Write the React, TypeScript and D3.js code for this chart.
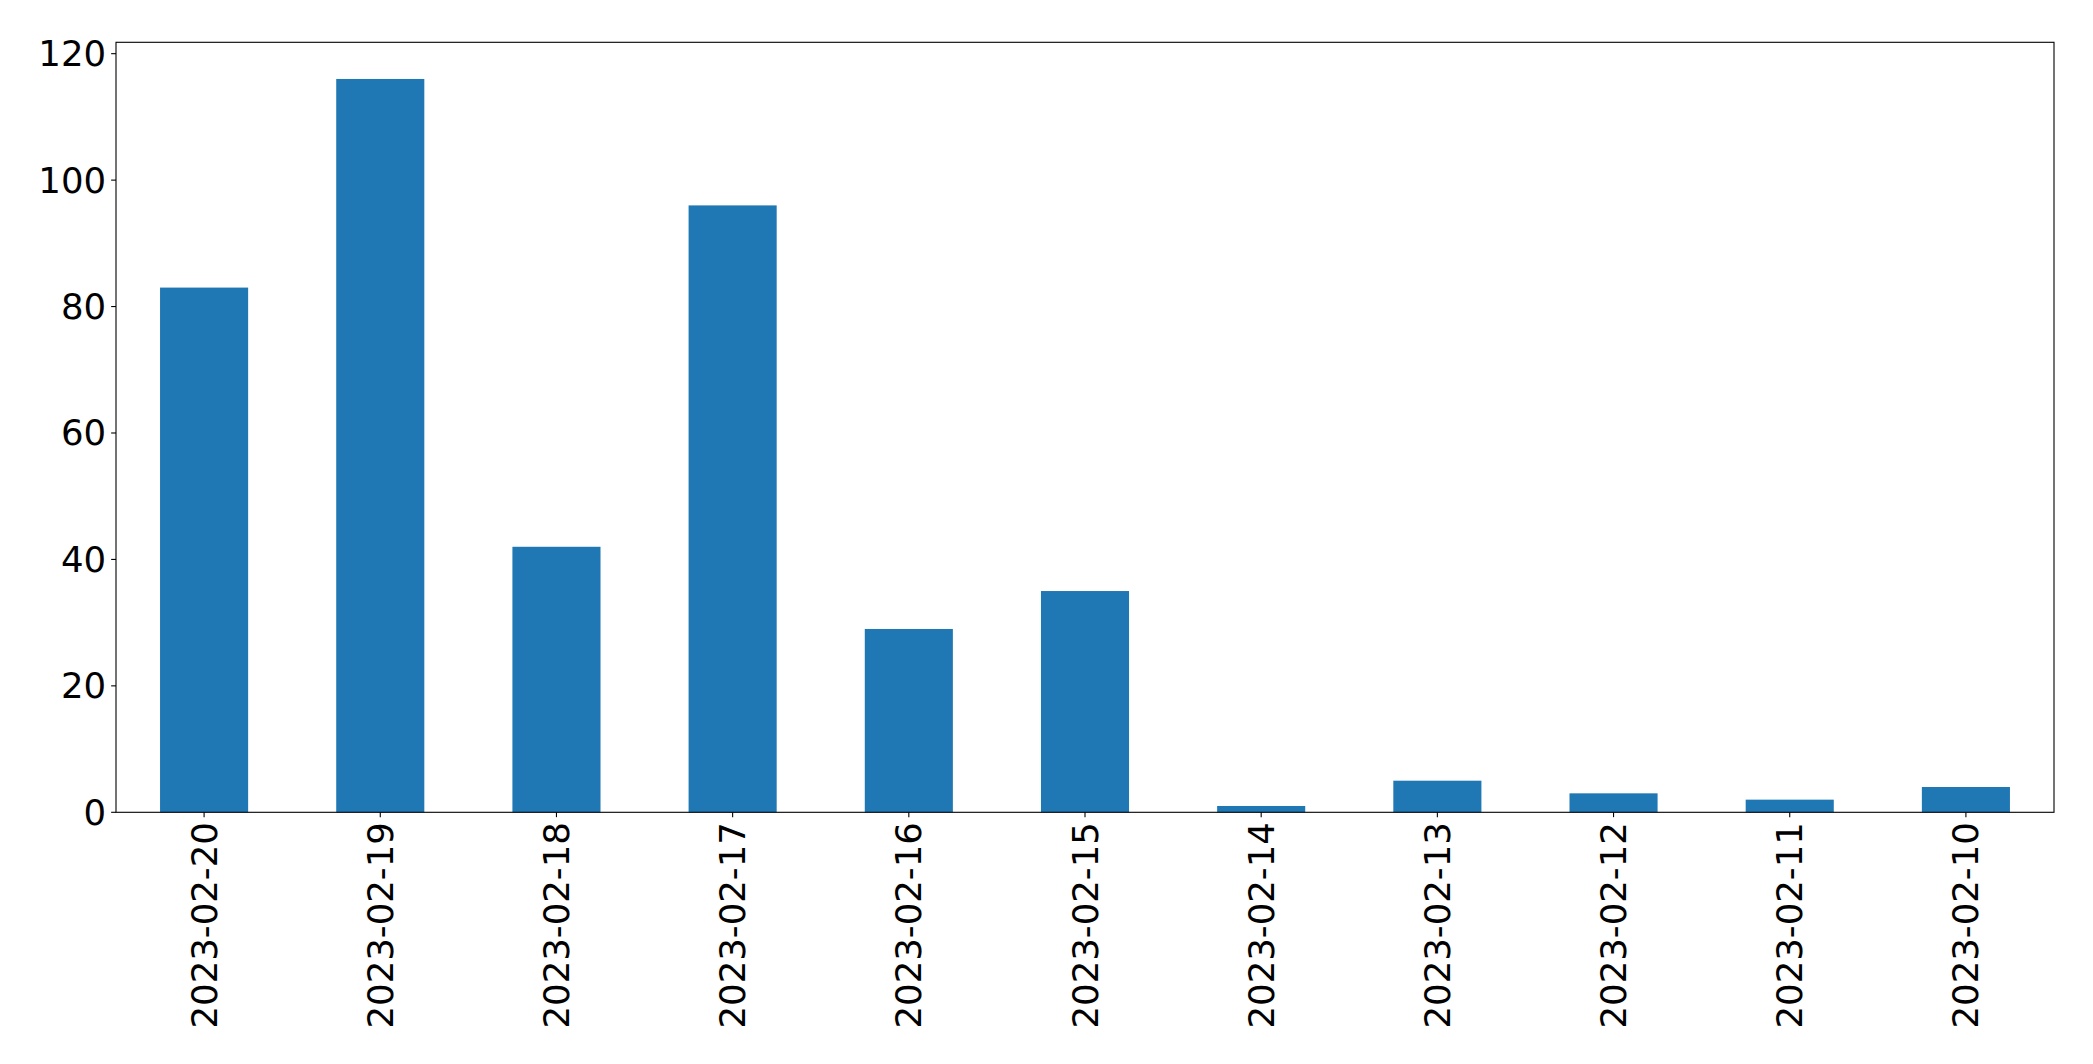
import React from "react";
import * as d3 from "d3";

const categories = ["2023-02-20","2023-02-19","2023-02-18","2023-02-17","2023-02-16","2023-02-15","2023-02-14","2023-02-13","2023-02-12","2023-02-11","2023-02-10"];
const values = [83, 116, 42, 96, 29, 35, 1, 5, 3, 2, 4];
const yTicks = [0, 20, 40, 60, 80, 100, 120];

export default function App() {
  const W = 2093, H = 1064;
  const left = 116, right = 2054, top = 42.3, bottom = 812.3;
  const x = d3.scaleBand<string>().domain(categories).range([left, right]).paddingInner(0.5).paddingOuter(0.25);
  const y = d3.scaleLinear().domain([0, 121.8]).range([bottom, top]);
  const font = "DejaVu Sans, sans-serif";
  const fs = 35.5;
  const tick = 4.86;
  return (
    <svg width={W} height={H} style={{ position: "absolute", left: 0, top: 0 }}>
      <rect x={0} y={0} width={W} height={H} fill="white" />
      {categories.map((c, i) => (
        <rect key={c} x={x(c)} y={y(values[i])} width={x.bandwidth()} height={bottom - y(values[i])} fill="#1f77b4" />
      ))}
      <rect x={left} y={top} width={right - left} height={bottom - top} fill="none" stroke="black" strokeWidth={1.1} />
      {yTicks.map((t) => (
        <g key={t}>
          <line x1={left - tick} x2={left} y1={y(t)} y2={y(t)} stroke="black" strokeWidth={1.1} />
          <text x={left - tick - 5} y={y(t)} textAnchor="end" dominantBaseline="central" fontFamily={font} fontSize={fs} fill="black">{t}</text>
        </g>
      ))}
      {categories.map((c) => {
        const cx = (x(c) as number) + x.bandwidth() / 2;
        const ty = bottom + tick + 5;
        return (
          <g key={c}>
            <line x1={cx} x2={cx} y1={bottom} y2={bottom + tick} stroke="black" strokeWidth={1.1} />
            <text transform={`translate(${cx},${ty}) rotate(-90)`} textAnchor="end" dominantBaseline="central" fontFamily={font} fontSize={fs} fill="black">{c}</text>
          </g>
        );
      })}
    </svg>
  );
}
